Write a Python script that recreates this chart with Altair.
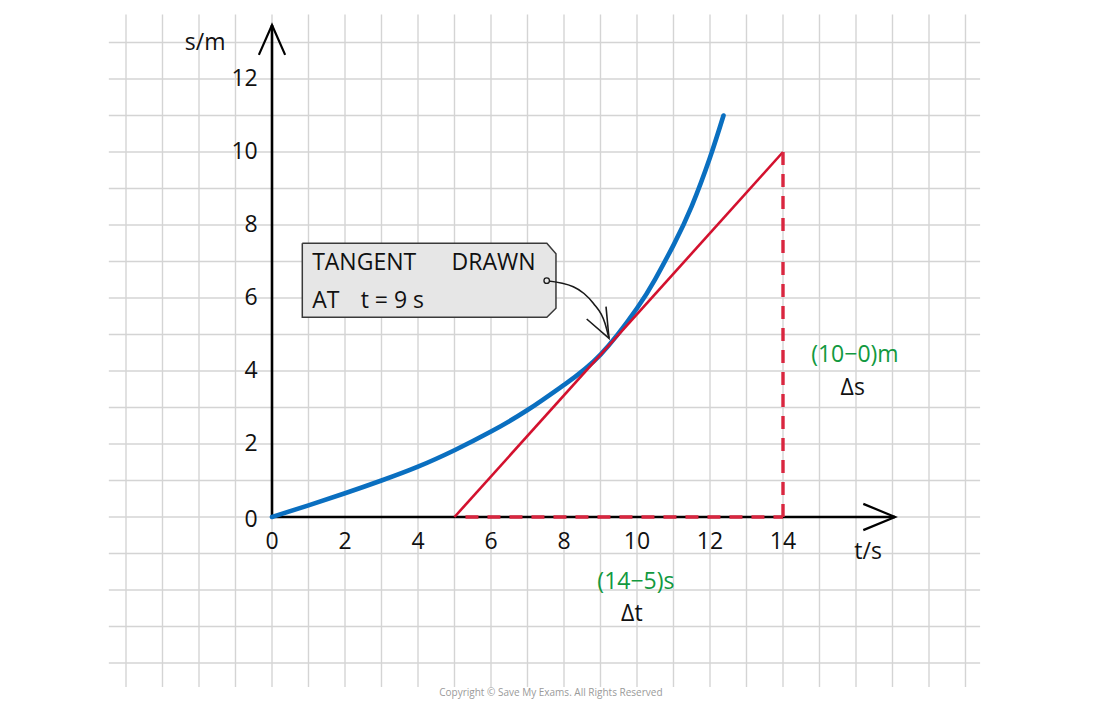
import altair as alt
import pandas as pd

# ---------------- data ----------------
curve_t = [0, 1, 2, 3, 4, 5, 6, 7, 8, 9, 10, 10.5, 11, 11.5, 12, 12.37]
curve_s = [0, 0.32, 0.65, 1.0, 1.38, 1.83, 2.34, 2.93, 3.62, 4.45, 5.72, 6.52, 7.45, 8.52, 9.85, 11.0]

tangent_t = [5, 14]
tangent_s = [0, 10]

x_ticks = [0, 2, 4, 6, 8, 10, 12, 14]
y_ticks = [0, 2, 4, 6, 8, 10, 12]

grid_t = list(range(-4, 20))
grid_s = list(range(-4, 14))

box_lines = ["TANGENT", "DRAWN", "AT", "t = 9 s"]
delta_s_labels = ["(10\u22120)m", "\u0394s"]
delta_t_labels = ["(14\u22125)s", "\u0394t"]
axis_titles = ["s/m", "t/s"]
copyright_text = "Copyright \u00a9 Save My Exams. All Rights Reserved"

# ---------------- scales ----------------
UNIT = 36.5
W, H = 1084, 694
xmin = (8 - 272) / UNIT
xmax = xmin + W / UNIT
ymax = (517 - 8) / UNIT
ymin = ymax - H / UNIT
xs = alt.Scale(domain=[xmin, xmax], nice=False, zero=False)
ys = alt.Scale(domain=[ymin, ymax], nice=False, zero=False)

FONT = "Open Sans"
FW = 400
FS = 23


def X(f="t"):
    return alt.X(f + ":Q", scale=xs, axis=None)


def Y(f="s"):
    return alt.Y(f + ":Q", scale=ys, axis=None)


# grid
vgrid = pd.DataFrame({"t": grid_t, "s": [-4.66] * len(grid_t), "s2": [13.77] * len(grid_t)})
hgrid = pd.DataFrame({"s": grid_s, "t": [-4.47] * len(grid_s), "t2": [19.4] * len(grid_s)})
grid_v = alt.Chart(vgrid).mark_rule(color="#d4d4d4", strokeWidth=1.4).encode(
    x=X(), y=Y(), y2="s2:Q")
grid_h = alt.Chart(hgrid).mark_rule(color="#d4d4d4", strokeWidth=1.4).encode(
    y=Y(), x=X(), x2="t2:Q")

# axes
axes_df = pd.DataFrame({
    "id": ["y", "y", "x", "x"],
    "k": [0, 1, 0, 1],
    "t": [0, 0, 0, 17.07],
    "s": [0, 13.48, 0, 0],
})
axes = alt.Chart(axes_df).mark_line(color="black", strokeWidth=2.6).encode(
    x=X(), y=Y(), detail="id:N", order="k:Q")
heads_df = pd.DataFrame({
    "id": ["y", "y", "y", "x", "x", "x"],
    "k": [0, 1, 2, 0, 1, 2],
    "t": [-0.36, 0, 0.36, 16.2, 17.07, 16.2],
    "s": [12.66, 13.48, 12.66, 0.36, 0, -0.36],
})
heads = alt.Chart(heads_df).mark_line(color="black", strokeWidth=2.2).encode(
    x=X(), y=Y(), detail="id:N", order="k:Q")

# curve and tangent
curve_df = pd.DataFrame({"t": curve_t, "s": curve_s})
curve = alt.Chart(curve_df).mark_line(color="#0a6fc0", strokeWidth=4.6, interpolate="natural",
                                      strokeCap="round").encode(x=X(), y=Y())
tan_df = pd.DataFrame({"t": tangent_t, "s": tangent_s})
tangent = alt.Chart(tan_df).mark_line(color="#d3112e", strokeWidth=2.6).encode(x=X(), y=Y())

dash_df = pd.DataFrame({
    "id": ["h", "h", "v", "v"],
    "k": [0, 1, 0, 1],
    "t": [tangent_t[0] + 0.3, tangent_t[1], tangent_t[1], tangent_t[1]],
    "s": [0, 0, tangent_s[1], 0],
})
dashes = alt.Chart(dash_df).mark_line(color="#d9263f", strokeWidth=3.4, strokeDash=[13, 9]).encode(
    x=X(), y=Y(), detail="id:N", order="k:Q")

# annotation box
box_area_df = pd.DataFrame({"t": [0.83, 7.53, 7.78], "lo": [5.47, 5.47, 5.72], "hi": [7.50, 7.50, 7.21]})
box_fill = alt.Chart(box_area_df).mark_area(color="#e6e6e6", opacity=1).encode(
    x=X(), y=alt.Y("lo:Q", scale=ys, axis=None), y2="hi:Q")
box_outline_df = pd.DataFrame({
    "k": list(range(7)),
    "t": [0.83, 7.53, 7.78, 7.78, 7.53, 0.83, 0.83],
    "s": [7.50, 7.50, 7.21, 5.72, 5.47, 5.47, 7.50],
})
box_outline = alt.Chart(box_outline_df).mark_line(color="#3a3a3a", strokeWidth=1.5).encode(
    x=X(), y=Y(), order="k:Q")

box_text_df = pd.DataFrame({
    "label": box_lines,
    "t": [1.10, 4.92, 1.10, 2.43],
    "s": [6.95, 6.95, 5.92, 5.92],
})
box_text = alt.Chart(box_text_df).mark_text(align="left", baseline="middle", font=FONT, fontWeight=FW,
                                            fontSize=FS, color="#111111").encode(
    x=X(), y=Y(), text="label:N")

# pointer arrow
ptr_df = pd.DataFrame({
    "k": [0, 1, 2, 3, 4, 5],
    "t": [7.526, 8.255, 8.548, 8.803, 9.123, 9.233],
    "s": [6.474, 6.31, 6.123, 5.855, 5.307, 4.896],
})
pointer = alt.Chart(ptr_df).mark_line(color="#1a1a1a", strokeWidth=1.6, interpolate="monotone").encode(
    x=X(), y=Y(), order="k:Q")
ptr_head_df = pd.DataFrame({
    "k": [0, 1, 2],
    "t": [8.622, 9.233, 9.151],
    "s": [5.425, 4.896, 5.762],
})
pointer_head = alt.Chart(ptr_head_df).mark_line(color="#1a1a1a", strokeWidth=1.6).encode(
    x=X(), y=Y(), order="k:Q")
dot = alt.Chart(pd.DataFrame({"t": [7.526], "s": [6.474]})).mark_point(
    shape="circle", size=30, filled=True, fill="#e6e6e6", stroke="#1a1a1a", strokeWidth=1.3, opacity=1).encode(
    x=X(), y=Y())

# tick labels
xt_df = pd.DataFrame({"t": x_ticks, "s": [-0.685] * len(x_ticks), "label": [str(v) for v in x_ticks]})
xt = alt.Chart(xt_df).mark_text(align="center", baseline="middle", font=FONT, fontWeight=FW, fontSize=FS,
                                color="#111111").encode(x=X(), y=Y(), text="label:N")
yt_df = pd.DataFrame({"t": [-0.39] * len(y_ticks), "s": [v - (0.08 if v == 0 else 0) for v in y_ticks],
                      "label": [str(v) for v in y_ticks]})
yt = alt.Chart(yt_df).mark_text(align="right", baseline="middle", font=FONT, fontWeight=FW, fontSize=FS,
                                color="#111111").encode(x=X(), y=Y(), text="label:N")

titles_df = pd.DataFrame({"label": axis_titles, "t": [-1.83, 16.33], "s": [13.0, -0.95]})
titles = alt.Chart(titles_df).mark_text(align="center", baseline="middle", font=FONT, fontWeight=FW, fontSize=FS,
                                        color="#111111").encode(x=X(), y=Y(), text="label:N")

# delta labels
green_df = pd.DataFrame({"label": [delta_s_labels[0], delta_t_labels[0]],
                         "t": [15.97, 9.97], "s": [4.44, -1.78]})
green = alt.Chart(green_df).mark_text(align="center", baseline="middle", font=FONT, fontWeight=FW, fontSize=FS,
                                      color="#12993f").encode(x=X(), y=Y(), text="label:N")
delta_df = pd.DataFrame({"label": [delta_s_labels[1], delta_t_labels[1]],
                         "t": [15.91, 9.86], "s": [3.53, -2.66]})
delta = alt.Chart(delta_df).mark_text(align="center", baseline="middle", font=FONT, fontWeight=FW, fontSize=FS,
                                      color="#111111").encode(x=X(), y=Y(), text="label:N")

copy_df = pd.DataFrame({"label": [copyright_text], "t": [7.64], "s": [-4.82]})
copy = alt.Chart(copy_df).mark_text(align="center", baseline="middle", font="Open Sans",
                                    fontSize=10, color="#9a9a9a").encode(x=X(), y=Y(), text="label:N")

chart = alt.layer(
    grid_v, grid_h, box_fill, box_outline, axes, heads, curve, tangent, dashes,
    pointer, pointer_head, dot, box_text, xt, yt, titles, green, delta, copy
).properties(width=W, height=H, padding=0, autosize="none").configure_view(stroke=None)

chart.save("out.html", embed_options={"renderer": "svg", "actions": False})
